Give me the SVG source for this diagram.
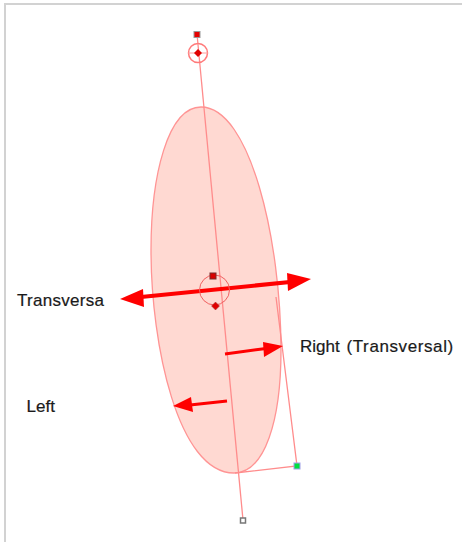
<svg xmlns="http://www.w3.org/2000/svg" width="462" height="542" viewBox="0 0 462 542">
<style>
.g{fill:none;stroke:#ff8c8c;stroke-width:1.300}
.a{fill:none;stroke:#f00;stroke-linecap:butt}
.h{fill:#f00}
.t{font-family:"Liberation Sans",Arial,sans-serif;font-size:17px;fill:#1a1a1a;stroke:#1a1a1a;stroke-width:0.200}
</style>
<rect width="462" height="542" fill="#fff"/>
<path d="M5 542V4H462" fill="none" stroke="#d2d2d2" stroke-width="2"/>
<g id="ellipse"><path d="M201 107C168 107 151 175 151 250C151 345 178 473 234 473C265 473 281 420 281 350C281 240 250 107 201 107Z" fill="#ffd9d2" stroke="#ff9494" stroke-width="1.300"/></g>
<g id="connectors">
<path class="g" d="M197 34L243 520"/>
<path class="g" d="M276 297L297 466L235 473"/>
<path class="a" stroke-width="4" d="M136 297.500L295 281.500"/>
<path class="h" d="M120 299L143 289L144 307Z"/>
<path class="h" d="M311 279L287 273L288 291Z"/>
<path class="a" stroke-width="3" d="M225 354L266 348.500"/>
<path class="h" d="M283 346L263 342L264 357Z"/>
<path class="a" stroke-width="3" d="M227 401L190 405"/>
<path class="h" d="M173 406L191 397L193 412Z"/>
</g>
<g id="top-handle">
<rect x="194" y="31.500" width="6" height="6" fill="#e60000" stroke="#999" stroke-width="1"/>
<circle cx="198" cy="53" r="9.500" fill="none" stroke="#ff7a7a" stroke-width="1.500"/>
<path d="M188 53H208" stroke="#ff9a9a" stroke-width="1"/>
<path d="M198 49L202 53L198 57L194 53Z" fill="#e00000"/>
</g>
<g id="center-handle">
<circle cx="214.500" cy="290" r="15" fill="none" stroke="#f06060" stroke-width="1"/>
<rect x="210" y="273" width="6" height="6" fill="#d80000" stroke="#7a2a2a" stroke-width="1"/>
<path d="M215.500 302L219.500 306L215.500 310L211.500 306Z" fill="#e00000" stroke="#a04040" stroke-width="0.500"/>
</g>
<g id="bottom-handle"><rect x="240.500" y="518" width="5" height="5" fill="#fff" stroke="#777" stroke-width="1.500"/></g>
<g id="green-handle"><rect x="294" y="463" width="6" height="6" fill="#00e040" stroke="#a0a0e8" stroke-width="1"/></g>
<g id="labels">
<text class="t" x="17" y="306" textLength="87" lengthAdjust="spacing">Transversa</text>
<text class="t" x="300" y="352">Right<tspan x="346.500" letter-spacing="0.600">(Transversal)</tspan></text>
<text class="t" x="26.500" y="412">Left</text>
</g>
</svg>
